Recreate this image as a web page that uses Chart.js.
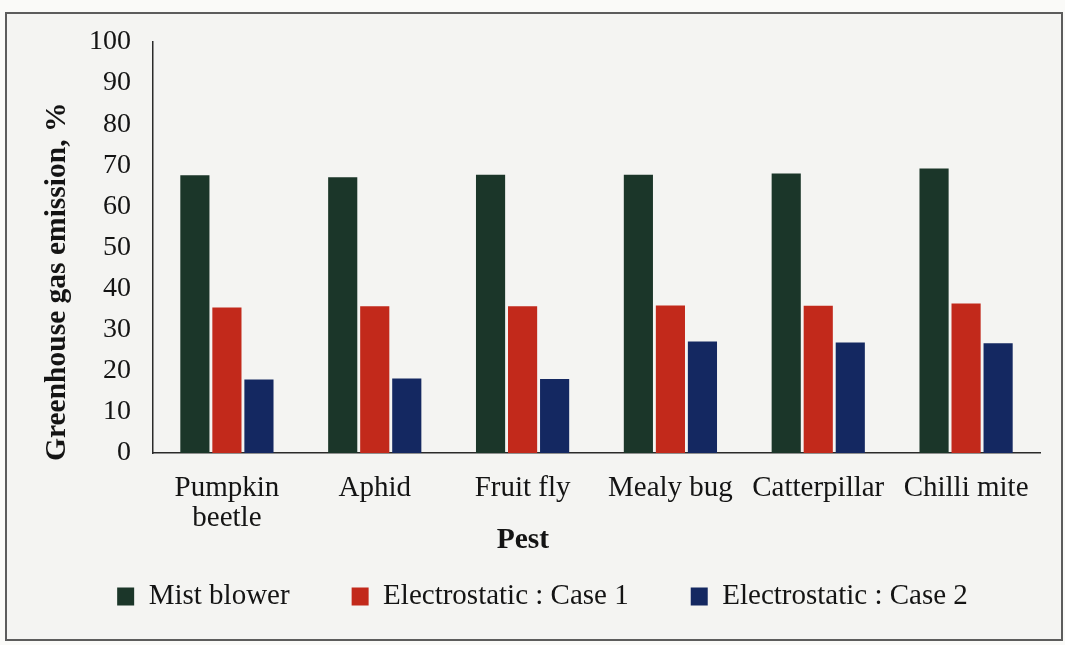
<!DOCTYPE html>
<html>
<head>
<meta charset="utf-8">
<script src="https://cdn.jsdelivr.net/npm/chart.js@4.4.1/dist/chart.umd.min.js"></script>
<style>
  html, body { margin: 0; padding: 0; background: #fafaf8; }
  #frame {
    position: absolute; left: 5px; top: 12px;
    width: 1054px; height: 625px;
    border: 2px solid #5c5c5c; background: #f4f4f2;
  }
  canvas { display: block; }
</style>
</head>
<body>
<div id="frame"><canvas id="chart" width="1054" height="625"></canvas></div>
<script>
// Pest categories (multi-line label for the first one)
const pests = [['Pumpkin', 'beetle'], 'Aphid', 'Fruit fly', 'Mealy bug', 'Catterpillar', 'Chilli mite'];

// Greenhouse gas emission, % for each spraying method
const mistBlower   = [67.6, 67.1, 67.7, 67.7, 68.0, 69.2];
const electroCase1 = [35.4, 35.7, 35.7, 35.9, 35.8, 36.4];
const electroCase2 = [17.9, 18.1, 18.0, 27.1, 26.9, 26.7];

// Value axis range and step
const yMin = 0, yMax = 100, yStep = 10;

const yTitle = 'Greenhouse gas emission, %';
const xTitle = 'Pest';

const FONT = '"Liberation Serif", "Times New Roman", serif';
const INK = '#141414';
const PAD_LEFT = 38;
const LEGEND_RAISE = 17;

// Axis titles: the vertical one sits low against the value axis,
// the horizontal one tucks under the category labels.
const axisTitlePlugin = {
  id: 'axisTitles',
  afterDraw(chart) {
    const ctx = chart.ctx;
    const y = chart.scales.y;
    const x = chart.scales.x;
    ctx.save();
    ctx.fillStyle = INK;
    ctx.font = 'bold 29.5px ' + FONT;
    ctx.textBaseline = 'middle';

    ctx.save();
    ctx.translate(50, y.bottom + 8);
    ctx.rotate(-Math.PI / 2);
    ctx.textAlign = 'left';
    ctx.fillText(yTitle, 0, 0);
    ctx.restore();

    ctx.textAlign = 'center';
    ctx.fillText(xTitle, x.left + 0.417 * x.width, x.top + 87);
    ctx.restore();
  }
};

// Pull the legend row a little closer to the category labels
const legendNudgePlugin = {
  id: 'legendNudge',
  afterLayout(chart) {
    const lg = chart.legend;
    if (lg) { lg.top -= LEGEND_RAISE; lg.bottom -= LEGEND_RAISE; }
  }
};

new Chart(document.getElementById('chart'), {
  type: 'bar',
  data: {
    labels: pests,
    datasets: [
      { label: 'Mist blower', data: mistBlower, backgroundColor: '#1b3629' },
      { label: 'Electrostatic : Case 1', data: electroCase1, backgroundColor: '#c2291b' },
      { label: 'Electrostatic : Case 2', data: electroCase2, backgroundColor: '#142861' }
    ]
  },
  options: {
    responsive: false,
    animation: false,
    devicePixelRatio: 1,
    datasets: { bar: { categoryPercentage: 0.65, barPercentage: 0.91 } },
    layout: { padding: { top: 28, right: 21, left: PAD_LEFT, bottom: 1 } },
    scales: {
      x: {
        grid: { display: false, drawTicks: false },
        border: { display: true, color: '#2a2a2a', width: 1.5 },
        ticks: {
          color: INK, font: { family: FONT, size: 29, lineHeight: 1.05 },
          padding: 20, maxRotation: 0, autoSkip: false
        },
        afterFit(scale) { scale.height = 84; }
      },
      y: {
        min: yMin, max: yMax,
        grid: { display: false, drawTicks: false },
        border: { display: true, color: '#2a2a2a', width: 1.5 },
        ticks: { stepSize: yStep, autoSkip: false, color: INK, font: { family: FONT, size: 28 }, padding: 22 },
        afterFit(scale) {
          scale.width = 146 - PAD_LEFT;
          scale.paddingTop = 0;
          scale.paddingBottom = 0;
        }
      }
    },
    plugins: {
      legend: {
        position: 'bottom',
        labels: {
          color: INK, font: { family: FONT, size: 29 },
          boxWidth: 17, boxHeight: 18, padding: 62
        }
      },
      tooltip: { enabled: false }
    }
  },
  plugins: [axisTitlePlugin, legendNudgePlugin]
});
</script>
</body>
</html>
